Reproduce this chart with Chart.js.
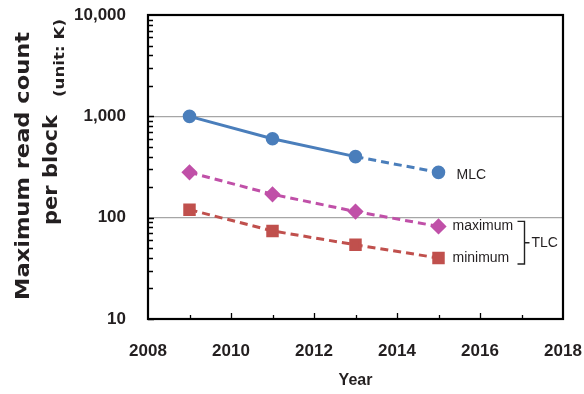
<!DOCTYPE html>
<html>
<head>
<meta charset="utf-8">
<script src="https://cdn.jsdelivr.net/npm/chart.js@4/dist/chart.umd.min.js"></script>
<style>
  html, body { margin: 0; padding: 0; background: #fff; }
  #wrap { width: 584px; height: 394px; }
</style>
</head>
<body>
<div id="wrap"><canvas id="c" width="584" height="394"></canvas></div>
<script>
// Maximum read count per block (unit: K) by year
const years = [2009, 2011, 2013, 2015];
const mlc = [1000, 600, 400, 280];
const tlcMaximum = [280, 170, 115, 82];
const tlcMinimum = [120, 74, 54, 40];

const yearTicks = [2008, 2010, 2012, 2014, 2016, 2018];
const countTicks = [10, 100, 1000, 10000];
const gridValues = [100, 1000];

const seriesLabels = ['MLC', 'maximum', 'minimum'];
const groupLabel = 'TLC';
const axisTitleX = 'Year';
const axisTitleY1 = 'Maximum read count';
const axisTitleY2 = 'per block';
const axisUnit = '(unit: K)';

const TEXT = '#231f20';
const BLUE = '#4a7ebb';
const PINK = '#c050a8';
const RED = '#c0504d';

const pts = arr => years.map((x, i) => ({ x, y: arr[i] }));
const DASH = [8, 5];

// Frame, inward tick marks, rotated y title and series labels
const decor = {
  id: 'decor',
  afterDraw(chart) {
    const { ctx, chartArea: a, scales: { x, y } } = chart;
    ctx.save();

    // inward ticks on the value axis: decades plus 2..9 sub-steps
    ctx.strokeStyle = '#000';
    ctx.lineWidth = 1.3;
    ctx.beginPath();
    for (let d = 10; d < 10000; d *= 10) {
      for (let m = 1; m <= 9; m++) {
        const py = Math.round(y.getPixelForValue(d * m)) + 0.5;
        const len = m === 1 ? 6 : 5;
        ctx.moveTo(a.left, py); ctx.lineTo(a.left + len, py);
      }
    }
    ctx.stroke();

    // inward ticks on the year axis
    ctx.beginPath();
    for (let yr = 2009; yr < 2018; yr++) {
      const px = Math.round(x.getPixelForValue(yr)) + 0.5;
      const len = yr % 2 === 0 ? 6 : 4;
      ctx.moveTo(px, a.bottom); ctx.lineTo(px, a.bottom - len);
    }
    ctx.stroke();

    // plot frame
    ctx.lineWidth = 2.2;
    ctx.strokeRect(a.left, a.top, a.right - a.left, a.bottom - a.top);

    // x title
    ctx.fillStyle = TEXT;
    ctx.font = 'bold 16px "Liberation Sans", Arial, sans-serif';
    ctx.textAlign = 'center';
    ctx.textBaseline = 'middle';
    ctx.fillText(axisTitleX, (a.left + a.right) / 2, 381);

    // rotated y title, fitted to its length
    const rot = (text, font, bx, cy, len) => {
      ctx.save();
      ctx.font = font;
      const w = ctx.measureText(text).width;
      ctx.translate(bx, cy);
      ctx.rotate(-Math.PI / 2);
      ctx.scale(len / w, 1);
      ctx.textAlign = 'center';
      ctx.textBaseline = 'alphabetic';
      ctx.fillText(text, 0, 0);
      ctx.restore();
    };
    rot(axisTitleY1, 'bold 20px "DejaVu Sans", sans-serif', 28.5, 166, 268);
    rot(axisTitleY2, 'bold 20px "DejaVu Sans", sans-serif', 57, 170, 110);
    rot(axisUnit, 'bold 14px "DejaVu Sans", sans-serif', 64, 58, 78);

    // series labels beside the last points
    const last = years.length - 1;
    const lx = x.getPixelForValue(years[last]);
    ctx.font = '14px "Liberation Sans", Arial, sans-serif';
    ctx.textAlign = 'left';
    ctx.textBaseline = 'middle';
    ctx.fillText(seriesLabels[0], lx + 18, y.getPixelForValue(mlc[last]) + 3);
    const yMax = y.getPixelForValue(tlcMaximum[last]);
    const yMin = y.getPixelForValue(tlcMinimum[last]);
    ctx.fillText(seriesLabels[1], lx + 14, yMax);
    ctx.fillText(seriesLabels[2], lx + 14, yMin);

    // brace grouping the two TLC series
    const bx0 = lx + 79, bx1 = lx + 86;
    const top = yMax - 5, bot = yMin + 6, mid = (top + bot) / 2;
    ctx.strokeStyle = '#222';
    ctx.lineWidth = 1.4;
    ctx.beginPath();
    ctx.moveTo(bx0, top); ctx.lineTo(bx1, top); ctx.lineTo(bx1, bot); ctx.lineTo(bx0, bot);
    ctx.moveTo(bx1, mid); ctx.lineTo(bx1 + 5, mid);
    ctx.stroke();
    ctx.fillText(groupLabel, bx1 + 7, mid);

    ctx.restore();
  }
};

new Chart(document.getElementById('c'), {
  type: 'line',
  data: {
    datasets: [
      {
        label: seriesLabels[0],
        data: pts(mlc),
        borderColor: BLUE, backgroundColor: BLUE,
        borderWidth: 3, pointStyle: 'circle', pointRadius: 5.3,
        segment: { borderDash: c => (c.p0DataIndex >= 2 ? DASH : undefined) }
      },
      {
        label: seriesLabels[1],
        data: pts(tlcMaximum),
        borderColor: PINK, backgroundColor: PINK,
        borderWidth: 3, borderDash: DASH, pointStyle: 'rectRot', pointRadius: 6
      },
      {
        label: seriesLabels[2],
        data: pts(tlcMinimum),
        borderColor: RED, backgroundColor: RED,
        borderWidth: 3, borderDash: DASH, pointStyle: 'rect', pointRadius: 6.7
      }
    ]
  },
  options: {
    responsive: false,
    animation: false,
    events: [],
    layout: { padding: { top: 15, right: 21, left: 0, bottom: 0 } },
    plugins: { legend: { display: false }, tooltip: { enabled: false } },
    scales: {
      x: {
        type: 'linear', min: 2008, max: 2018,
        afterBuildTicks: s => { s.ticks = yearTicks.map(v => ({ value: v })); },
        afterFit: s => { s.height = 75; s.paddingLeft = 0; s.paddingRight = 0; },
        grid: { display: false, drawTicks: false },
        border: { display: false },
        ticks: {
          callback: v => String(v),
          color: TEXT, padding: 22, maxRotation: 0,
          font: { family: '"Liberation Sans", Arial, sans-serif', size: 17, weight: 'bold' }
        }
      },
      y: {
        type: 'logarithmic', min: 10, max: 10000,
        afterBuildTicks: s => { s.ticks = countTicks.map(v => ({ value: v })); },
        afterFit: s => { s.width = 148; s.paddingTop = 0; s.paddingBottom = 0; },
        grid: {
          drawTicks: false,
          color: c => (gridValues.includes(c.tick.value) ? '#a6a6a6' : 'rgba(0,0,0,0)'),
          lineWidth: 1.2
        },
        border: { display: false },
        ticks: {
          callback: v => v.toLocaleString('en-US'),
          color: TEXT, padding: 22,
          font: { family: '"Liberation Sans", Arial, sans-serif', size: 17, weight: 'bold' }
        }
      }
    }
  },
  plugins: [decor]
});
</script>
</body>
</html>
